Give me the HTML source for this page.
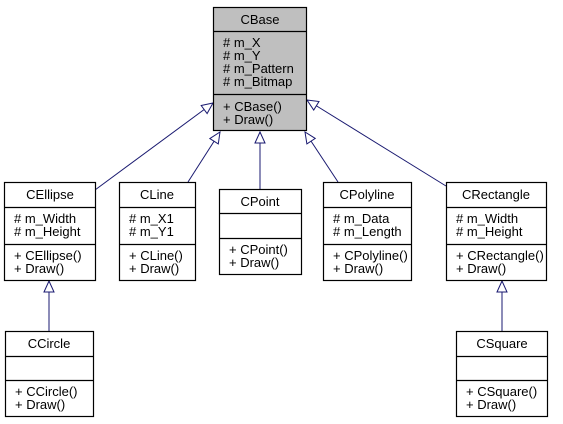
<!DOCTYPE html>
<html><head><style>
html,body{margin:0;padding:0;background:#fff;}
svg{display:block;}
text{font-family:"Liberation Sans",Helvetica,sans-serif;font-size:13px;fill:#000;}
</style></head><body>
<svg width="563" height="424" viewBox="0 0 563 424" xmlns="http://www.w3.org/2000/svg">
<defs>
<marker id="a" markerWidth="14" markerHeight="14" refX="12" refY="6" orient="auto" markerUnits="userSpaceOnUse">
<polygon points="1,1 12,6 1,11" fill="#fff" stroke="#191970" stroke-width="1"/>
</marker>
</defs>
<g stroke="#191970" stroke-width="1" fill="none">
<line x1="95" y1="190" x2="213" y2="103" marker-end="url(#a)"/>
<line x1="188" y1="182" x2="220" y2="132" marker-end="url(#a)"/>
<line x1="260" y1="189" x2="260" y2="132" marker-end="url(#a)"/>
<line x1="338" y1="182" x2="305" y2="132" marker-end="url(#a)"/>
<line x1="446" y1="186" x2="307" y2="100" marker-end="url(#a)"/>
<line x1="49" y1="331" x2="49" y2="281" marker-end="url(#a)"/>
<line x1="502" y1="331" x2="502" y2="281" marker-end="url(#a)"/>
</g>
<g stroke="#000" stroke-width="1.2">
<rect x="213.5" y="7.5" width="93" height="123" fill="#bfbfbf"/>
<line x1="213.5" y1="31.5" x2="306.5" y2="31.5"/>
<line x1="213.5" y1="94.5" x2="306.5" y2="94.5"/>
<rect x="4.5" y="182.5" width="91" height="98" fill="#fff"/>
<line x1="4.5" y1="207.5" x2="95.5" y2="207.5"/>
<line x1="4.5" y1="244.5" x2="95.5" y2="244.5"/>
<rect x="119.5" y="182.5" width="76" height="98" fill="#fff"/>
<line x1="119.5" y1="207.5" x2="195.5" y2="207.5"/>
<line x1="119.5" y1="244.5" x2="195.5" y2="244.5"/>
<rect x="219.5" y="189.5" width="82" height="85" fill="#fff"/>
<line x1="219.5" y1="213.5" x2="301.5" y2="213.5"/>
<line x1="219.5" y1="238.5" x2="301.5" y2="238.5"/>
<rect x="323.5" y="182.5" width="88" height="98" fill="#fff"/>
<line x1="323.5" y1="207.5" x2="411.5" y2="207.5"/>
<line x1="323.5" y1="244.5" x2="411.5" y2="244.5"/>
<rect x="446.5" y="182.5" width="100" height="98" fill="#fff"/>
<line x1="446.5" y1="207.5" x2="546.5" y2="207.5"/>
<line x1="446.5" y1="244.5" x2="546.5" y2="244.5"/>
<rect x="5.5" y="331.5" width="88" height="85" fill="#fff"/>
<line x1="5.5" y1="356.5" x2="93.5" y2="356.5"/>
<line x1="5.5" y1="380.5" x2="93.5" y2="380.5"/>
<rect x="456.5" y="331.5" width="91" height="85" fill="#fff"/>
<line x1="456.5" y1="356.5" x2="547.5" y2="356.5"/>
<line x1="456.5" y1="380.5" x2="547.5" y2="380.5"/>
</g>
<g>
<text x="260" y="24" text-anchor="middle">CBase</text>
<text x="223" y="47"># m_X</text>
<text x="223" y="60"># m_Y</text>
<text x="223" y="73"># m_Pattern</text>
<text x="223" y="86"># m_Bitmap</text>
<text x="223" y="111">+ CBase()</text>
<text x="223" y="124">+ Draw()</text>

<text x="50" y="199" text-anchor="middle">CEllipse</text>
<text x="14" y="223"># m_Width</text>
<text x="14" y="236"># m_Height</text>
<text x="14" y="260">+ CEllipse()</text>
<text x="14" y="273">+ Draw()</text>

<text x="157" y="199" text-anchor="middle">CLine</text>
<text x="129" y="223"># m_X1</text>
<text x="129" y="236"># m_Y1</text>
<text x="129" y="260">+ CLine()</text>
<text x="129" y="273">+ Draw()</text>

<text x="260" y="206" text-anchor="middle">CPoint</text>
<text x="229" y="254">+ CPoint()</text>
<text x="229" y="267">+ Draw()</text>

<text x="367" y="199" text-anchor="middle">CPolyline</text>
<text x="333" y="223"># m_Data</text>
<text x="333" y="236"># m_Length</text>
<text x="333" y="260">+ CPolyline()</text>
<text x="333" y="273">+ Draw()</text>

<text x="496" y="199" text-anchor="middle">CRectangle</text>
<text x="456" y="223"># m_Width</text>
<text x="456" y="236"># m_Height</text>
<text x="456" y="260">+ CRectangle()</text>
<text x="456" y="273">+ Draw()</text>

<text x="49" y="348" text-anchor="middle">CCircle</text>
<text x="15" y="396">+ CCircle()</text>
<text x="15" y="409">+ Draw()</text>

<text x="502" y="348" text-anchor="middle">CSquare</text>
<text x="466" y="396">+ CSquare()</text>
<text x="466" y="409">+ Draw()</text>
</g>
</svg>
</body></html>
